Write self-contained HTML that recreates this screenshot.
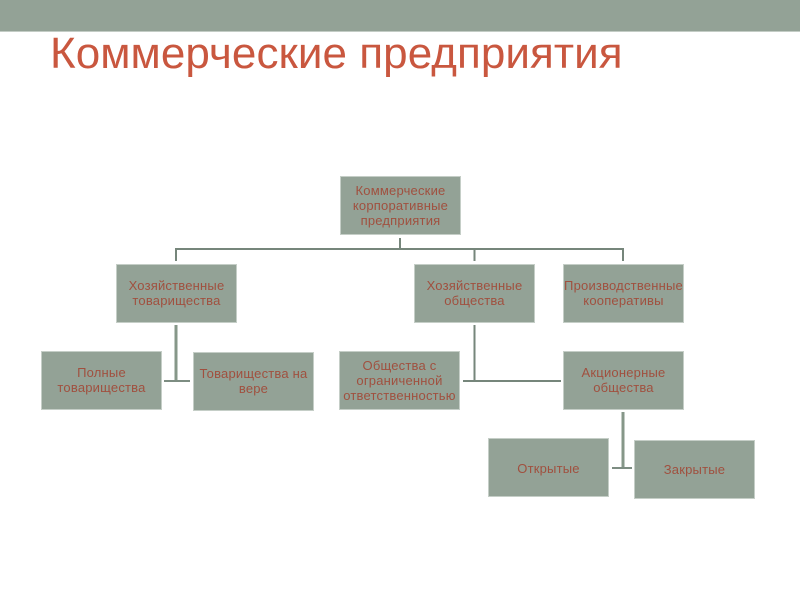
<!DOCTYPE html>
<html lang="ru">
<head>
<meta charset="utf-8">
<style>
html,body{margin:0;padding:0;background:#fff}
#s{position:relative;width:800px;height:600px;overflow:hidden;background:#fff;font-family:"Liberation Sans",sans-serif}
#band{position:absolute;left:0;top:0;width:800px;height:32px;background:#93a296;border-bottom:1px solid #c3ccc5;box-sizing:border-box}
#title{position:absolute;left:50px;top:30px;font-size:44px;line-height:48px;color:#c9573f;white-space:nowrap;letter-spacing:.06px;filter:blur(.3px)}
.b{position:absolute;width:121px;height:59px;box-sizing:border-box;padding-top:1px;background:#93a296;border:1px solid #c5cec7;display:flex;align-items:center;justify-content:center;text-align:center;color:#a0503f;font-size:13px;line-height:14.7px;letter-spacing:.2px;white-space:nowrap}
.b span{filter:blur(.35px)}
svg{position:absolute;left:0;top:0}
</style>
</head>
<body>
<div id="s">
<div id="band"></div>
<div id="title">Коммерческие предприятия</div>
<svg width="800" height="600" fill="none" stroke="#76867b" stroke-width="2">
<path d="M400 238V249M176 261V249H623V261M474.500 249V261"/>
<path d="M176 325V381" stroke="#869789" stroke-width="3"/>
<path d="M164 381H190" stroke="#7d8d82"/>
<path d="M474.500 325V381M463 381H561"/>
<path d="M623 412V468" stroke="#869789" stroke-width="3"/>
<path d="M612 468H632" stroke="#7d8d82"/>
</svg>
<div class="b" style="left:340px;top:176px;padding-top:2px"><span>Коммерческие<br>корпоративные<br>предприятия</span></div>
<div class="b" style="left:116px;top:264px"><span>Хозяйственные<br>товарищества</span></div>
<div class="b" style="left:414px;top:264px"><span>Хозяйственные<br>общества</span></div>
<div class="b" style="left:563px;top:264px"><span>Производственные<br>кооперативы</span></div>
<div class="b" style="left:41px;top:351px"><span>Полные<br>товарищества</span></div>
<div class="b" style="left:193px;top:352px"><span>Товарищества на<br>вере</span></div>
<div class="b" style="left:339px;top:351px;padding-top:2px"><span>Общества с<br>ограниченной<br>ответственностью</span></div>
<div class="b" style="left:563px;top:351px"><span>Акционерные<br>общества</span></div>
<div class="b" style="left:488px;top:438px;padding-top:3px"><span>Открытые</span></div>
<div class="b" style="left:634px;top:440px;padding-top:2px"><span>Закрытые</span></div>
</div>
</body>
</html>
